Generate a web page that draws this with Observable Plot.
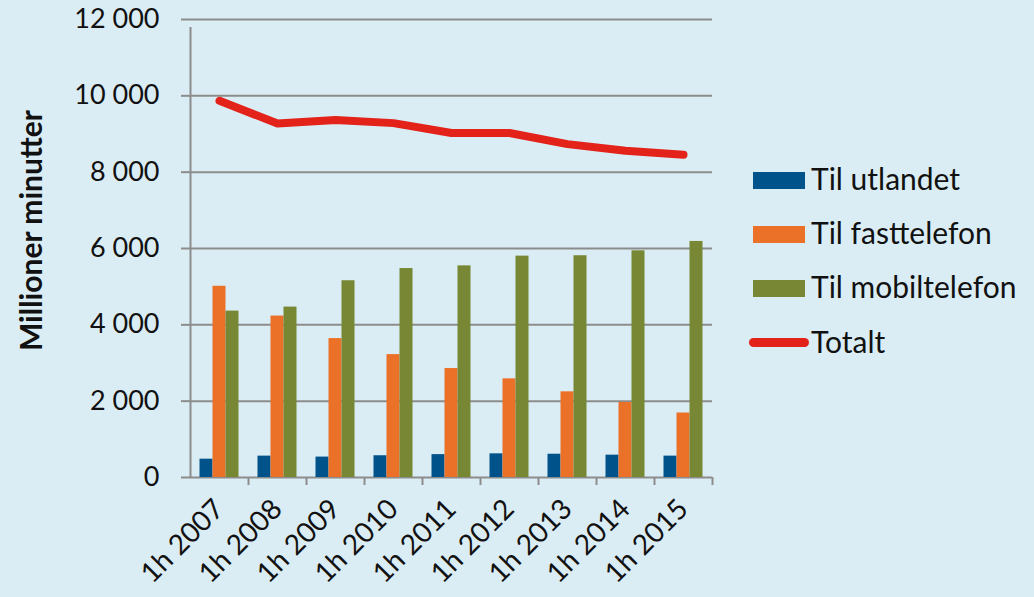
<!DOCTYPE html>
<html>
<head>
<meta charset="utf-8">
<script src="https://cdn.jsdelivr.net/npm/d3@7"></script>
<script src="https://cdn.jsdelivr.net/npm/@observablehq/plot@0.6"></script>
<style>
  html, body { margin: 0; padding: 0; background: #dbedf4; }
  #wrap { position: relative; width: 1034px; height: 597px; overflow: hidden; font-family: Lato, sans-serif; }
  #legend { position: absolute; left: 0; top: 0; }
  .row { position: absolute; left: 753px; height: 34px; line-height: 34px; font-size: 30px; color: #111; white-space: nowrap; }
  .sw { position: absolute; left: 0; width: 52px; height: 17px; top: 11px; }
  .ln { position: absolute; left: -4px; width: 60px; height: 9px; border-radius: 5px; top: 14px; }
  .lbl { position: absolute; left: 58px; top: 0; }
</style>
</head>
<body>
<div id="wrap"><div id="chart"></div><div id="legend"></div></div>
<script>
const years = ["1h 2007","1h 2008","1h 2009","1h 2010","1h 2011","1h 2012","1h 2013","1h 2014","1h 2015"];
const utlandet = [480, 560, 535, 570, 600, 620, 610, 585, 560];
const fasttelefon = [5010, 4230, 3640, 3220, 2855, 2585, 2245, 1965, 1690];
const mobiltelefon = [4360, 4465, 5155, 5475, 5545, 5800, 5810, 5940, 6185];
const totalt = [9870, 9275, 9365, 9285, 9025, 9025, 8735, 8560, 8455];
const yTicks = [0, 2000, 4000, 6000, 8000, 10000, 12000];
const seriesNames = ["Til utlandet", "Til fasttelefon", "Til mobiltelefon", "Totalt"];
const colors = ["#00538a", "#ec7128", "#778733", "#e3221a"];

const rows = years.map((y, i) => ({year: y, utl: utlandet[i], fast: fasttelefon[i], mob: mobiltelefon[i], tot: totalt[i]}));
const nb = d3.formatLocale({decimal: ",", thousands: " ", grouping: [3], currency: ["", " kr"]});
const fmt = nb.format(",d");

const gray = "#8c8c8c";
const barOpts = {x: "year", insetLeft: 22.5, insetRight: 22.5};

const chart = Plot.plot({
  width: 1034,
  height: 597,
  marginLeft: 190,
  marginRight: 322,
  marginTop: 19,
  marginBottom: 120,
  style: {background: "transparent", fontFamily: "Lato, sans-serif", fontSize: "27px", color: "#111", overflow: "visible"},
  x: {domain: years, padding: 0, label: null},
  y: {domain: [0, 12000], label: null},
  marks: [
    Plot.ruleY(yTicks, {stroke: gray, strokeWidth: 2}),
    Plot.axisY({ticks: yTicks, tickFormat: fmt, tickSize: 9, tickPadding: 22, stroke: gray, strokeWidth: 2, label: null}),
    Plot.ruleX([years[0]], {dx: -29, y1: 0, y2: 12000, insetBottom: -8, stroke: gray, strokeWidth: 2}),
    Plot.ruleX(years.slice(1), {dx: -29, y1: 0, y2: 0, insetBottom: -8, stroke: gray, strokeWidth: 2}),
    Plot.ruleX([years[years.length - 1]], {dx: 29, y1: 0, y2: 0, insetBottom: -8, stroke: gray, strokeWidth: 2}),
    Plot.barY(rows, {...barOpts, y: "utl", fill: colors[0], dx: -13}),
    Plot.barY(rows, {...barOpts, y: "fast", fill: colors[1], dx: 0}),
    Plot.barY(rows, {...barOpts, y: "mob", fill: colors[2], dx: 13}),
    Plot.line(rows, {x: "year", y: "tot", stroke: colors[3], strokeWidth: 8, strokeLinecap: "round", strokeLinejoin: "round"}),
    Plot.axisX({tickRotate: -45, tickSize: 0, tickPadding: 27, fontSize: 28, label: null, fill: "#111"}),
    Plot.text(["Millioner minutter"], {frameAnchor: "left", textAnchor: "middle", rotate: -90, dx: -158, dy: -18, fontWeight: "bold", fontSize: 30, fill: "#111"})
  ]
});
document.getElementById("chart").appendChild(chart);

const legend = document.getElementById("legend");
const tops = [161, 215, 269, 324];
seriesNames.forEach((name, i) => {
  const r = document.createElement("div");
  r.className = "row";
  r.style.top = tops[i] + "px";
  const s = document.createElement("div");
  s.className = i === 3 ? "ln" : "sw";
  s.style.background = colors[i];
  const t = document.createElement("span");
  t.className = "lbl";
  t.textContent = name;
  r.appendChild(s); r.appendChild(t);
  legend.appendChild(r);
});
</script>
</body>
</html>
